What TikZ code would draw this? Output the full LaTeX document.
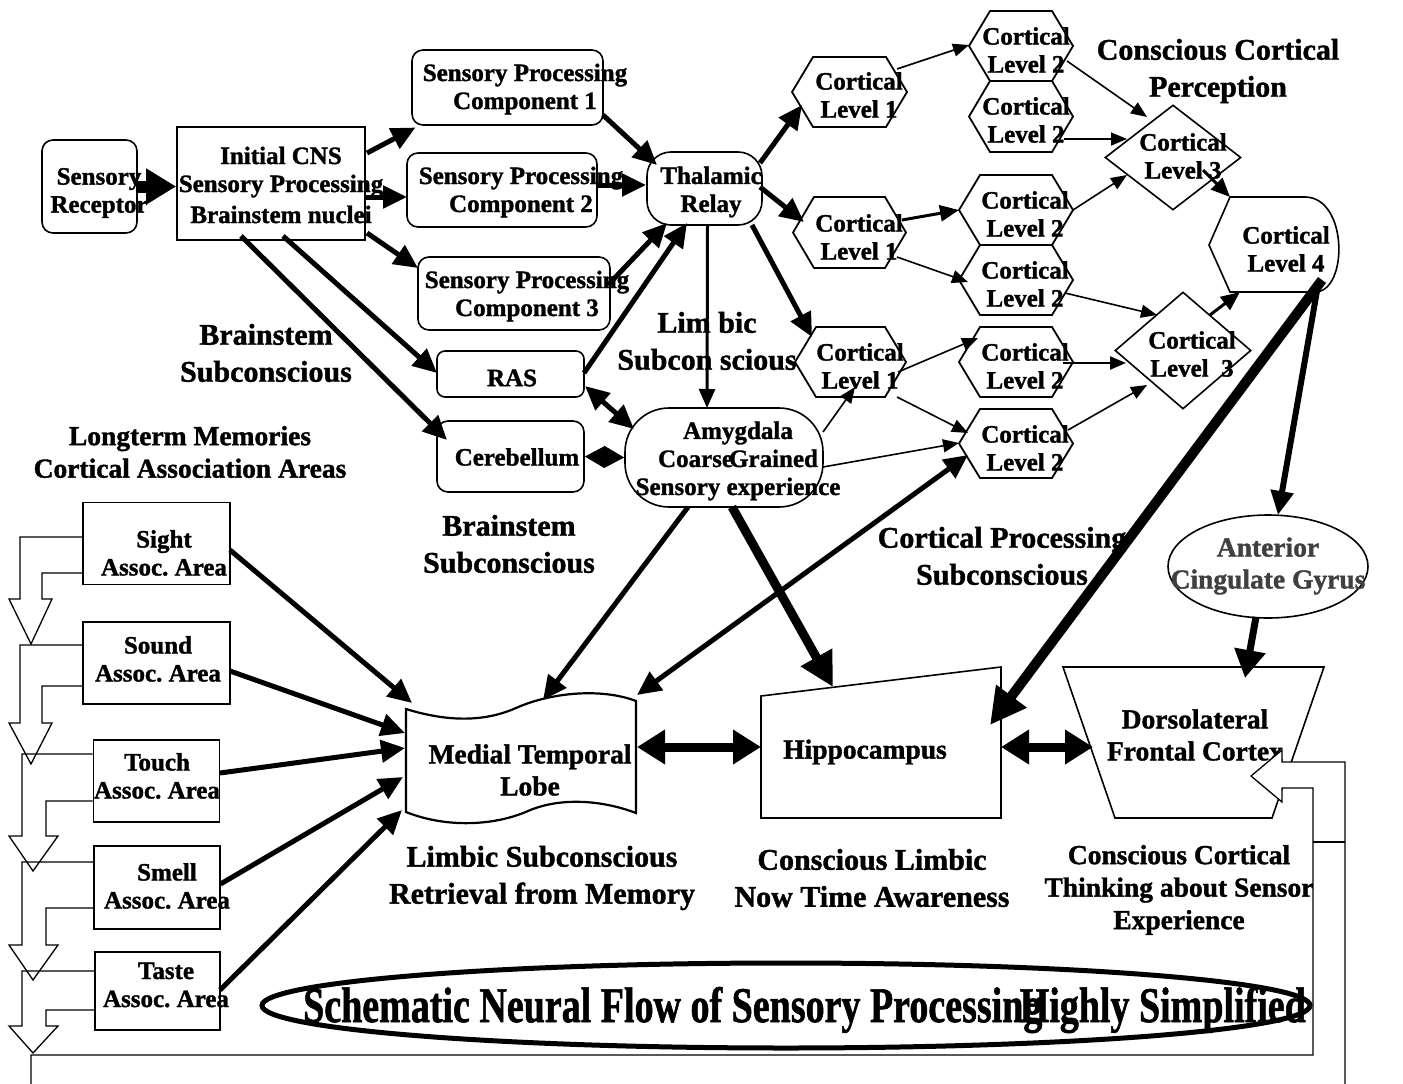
\documentclass[tikz,border=0pt]{standalone}
\usepackage{fontspec}
\setmainfont{Liberation Serif}[BoldFeatures={FakeBold=1.3}]
\usetikzlibrary{arrows.meta,shapes.geometric,calc}
\frenchspacing
\newcommand\fNode{\bfseries\fontsize{25}{28}\selectfont}
\newcommand\fBig{\bfseries\fontsize{27.5}{32}\selectfont}
\newcommand\fLbl{\bfseries\fontsize{30}{37}\selectfont}
\newcommand\fMid{\bfseries\fontsize{27.5}{32.5}\selectfont}
\newcommand\fTtl{\bfseries\fontsize{50}{55}\selectfont}
\tikzset{
  shp/.style={line width=1.6pt},
  rbox/.style={draw, shp, rounded corners=11pt, inner sep=0pt},
  sbox/.style={draw, shp, inner sep=0pt},
  hole/.style={inner sep=0pt, outer sep=0pt},
  txt/.style={font=\fNode, align=center, inner sep=0pt},
  btxt/.style={font=\fBig, align=center, inner sep=0pt},
  lbl/.style={font=\fLbl, align=center, inner sep=0pt},
  mlbl/.style={font=\fMid, align=center, inner sep=0pt},
  aThin/.style={line width=1.6pt, -{Triangle[length=16pt,width=13pt]}},
  aMed/.style={line width=3pt, -{Triangle[length=19pt,width=16pt]}},
  aThick/.style={line width=5pt, -{Triangle[length=24pt,width=22pt]}},
  aHeavy/.style={line width=9pt, -{Triangle[length=34pt,width=34pt]}},
  aHuge/.style={line width=12pt, -{Triangle[length=30pt,width=34pt]}},
  aDbl/.style={line width=9pt, {Triangle[length=28pt,width=33pt]}-{Triangle[length=28pt,width=33pt]}},
  aDblT/.style={line width=5pt, {Triangle[length=24pt,width=22pt]}-{Triangle[length=24pt,width=22pt]}},
  aDblS/.style={line width=1pt, {Triangle[length=20pt,width=22pt]}-{Triangle[length=20pt,width=22pt]}},
  hol/.style={line width=1.3pt, line join=miter},
}
\newcommand\hexn[5]{%
  \node[hole, minimum width=#4, minimum height=#5] (#1) at (#2,#3) {};%
  \draw[line width=1.8pt] (#1.west) -- ([xshift=21pt]#1.north west) -- ([xshift=-21pt]#1.north east) -- (#1.east) -- ([xshift=-21pt]#1.south east) -- ([xshift=21pt]#1.south west) -- cycle;}
\begin{document}
\begin{tikzpicture}[x=1pt,y=-1pt]
\useasboundingbox (0,0) rectangle (1403,1084);

% ---------- shapes ----------
\node[rbox, minimum width=95, minimum height=93] (sr) at (89.5,186.5) {};
\node[sbox, minimum width=188, minimum height=113] (cns) at (271,183.5) {};
\node[rbox, minimum width=191, minimum height=75] (sp1) at (507.5,87.5) {};
\node[rbox, minimum width=190, minimum height=74] (sp2) at (502,190) {};
\node[rbox, minimum width=192, minimum height=73] (sp3) at (514,293.5) {};
\node[draw, shp, rounded corners=24pt, minimum width=115, minimum height=73, inner sep=0pt] (thal) at (704.5,188.5) {};
\node[draw, shp, rounded corners=8pt, minimum width=147, minimum height=46, inner sep=0pt] (ras) at (510.5,374) {};
\node[rbox, minimum width=147, minimum height=71] (cer) at (510.5,456.5) {};
\node[draw, shp, rounded corners=44pt, minimum width=198, minimum height=99, inner sep=0pt] (amy) at (724,457.5) {};

\hexn{cl1a}{849.5}{92}{115}{70}
\hexn{cl1b}{849.5}{232.5}{113}{71}
\hexn{cl1c}{850.5}{362}{111}{70}
\hexn{cl2a}{1021}{46}{104}{70}
\hexn{cl2b}{1021}{116.5}{104}{71}
\hexn{cl2c}{1016}{210}{114}{70}
\hexn{cl2d}{1016}{280}{114}{70}
\hexn{cl2e}{1016}{362}{114}{70}
\hexn{cl2f}{1016}{443.5}{114}{69}

\node[diamond, draw, shp, minimum width=136, minimum height=105, inner sep=0pt] (cl3a) at (1173,157.5) {};
\node[diamond, draw, shp, minimum width=136, minimum height=117, inner sep=0pt] (cl3b) at (1183,350.5) {};

\node[hole, minimum width=126, minimum height=95] (cl4) at (1272,244.5) {};
\draw[shp] (1209,245) -- (1230,197) -- (1306,197) .. controls (1348,199) and (1348,290) .. (1316,292) -- (1230,292) -- cycle;

\node[ellipse, draw, shp, minimum width=200, minimum height=103, inner sep=0pt] (acg) at (1268,566.5) {};

\node[hole, minimum width=261, minimum height=151] (dlpfc) at (1193.5,742.5) {};
\draw[shp] (dlpfc.north west) -- (dlpfc.north east) -- ([xshift=-52pt]dlpfc.south east) -- ([xshift=52pt]dlpfc.south west) -- cycle;

\node[hole, minimum width=240, minimum height=151] (hip) at (881,742.5) {};
\draw[shp] ([yshift=-29pt]hip.north west) -- (hip.north east) -- (hip.south east) -- (hip.south west) -- cycle;

\node[hole, minimum width=230, minimum height=125] (mtl) at (521,757.5) {};
\draw[line width=2.2pt] (406,709) .. controls (445,721) and (482,723) .. (516,708) .. controls (552,692) and (602,688) .. (636,701) -- (636,813) .. controls (602,800) and (560,797) .. (528,811) .. controls (494,826) and (446,828) .. (406,812) -- cycle;

\node[sbox, minimum width=147, minimum height=82] (sight) at (156.5,543.5) {};
\node[sbox, minimum width=147, minimum height=82] (sound) at (156.5,663) {};
\node[sbox, minimum width=126, minimum height=82] (touch) at (156.5,781) {};
\node[sbox, minimum width=126, minimum height=83] (smell) at (157,887.5) {};
\node[sbox, minimum width=125, minimum height=78] (taste) at (157.5,991) {};

\node[draw, ellipse, line width=5pt, minimum width=1048, minimum height=85, inner sep=0pt] (ttl) at (786,1005.5) {};

% ---------- hollow arrows on the left ----------
\draw[hol] (sight.west |- 0,537) -- (20,537) -- (20,599) -- (9,599) -- (31,644) -- (52,599) -- (42,599) -- (42,573) -- (sight.west |- 0,573);
\draw[hol] (sound.west |- 0,645) -- (20,645) -- (20,723) -- (9,723) -- (31,764) -- (52,723) -- (42,723) -- (42,686) -- (sound.west |- 0,686);
\draw[hol] (touch.west |- 0,754) -- (22,754) -- (22,836) -- (9,836) -- (33,871) -- (58,836) -- (46,836) -- (46,801) -- (touch.west |- 0,801);
\draw[hol] (smell.west |- 0,862) -- (22,862) -- (22,945) -- (9,945) -- (33,980) -- (58,945) -- (46,945) -- (46,908) -- (smell.west |- 0,908);
\draw[hol] (taste.west |- 0,971) -- (22,971) -- (22,1026) -- (9,1026) -- (33,1053) -- (58,1026) -- (46,1026) -- (46,1010) -- (taste.west |- 0,1010);

% ---------- texts ----------
\node[txt] (srT) at (99,193) {Sensory\\Receptor};
\node[txt] (cnsT) at (281,185) {Initial CNS\\Sensory Processing\\[3pt]Brainstem nuclei};
\node[txt] (sp1T) at (525,89) {Sensory Processing\\Component 1};
\node[txt] (sp2T) at (521,192) {Sensory Processing\\Component 2};
\node[txt] (sp3T) at (527,296) {Sensory Processing\\Component 3};
\node[txt] (thalT) at (711,192) {Thalamic\\Relay};
\node[txt] (rasT) at (512,378) {RAS};
\node[txt] (cerT) at (517,457) {Cerebellum};
\node[txt] (amyT) at (738,461) {Amygdala\\Coarse\kern-4pt Grained\\Sensory experience};
\node[txt] (cl1aT) at (859,95) {Cortical\\Level 1};
\node[txt] (cl1bT) at (859,237) {Cortical\\Level 1};
\node[txt] (cl1cT) at (860,366) {Cortical\\Level 1};
\node[txt] (cl2aT) at (1026,50) {Cortical\\Level 2};
\node[txt] (cl2bT) at (1026,120) {Cortical\\Level 2};
\node[txt] (cl2cT) at (1025,214) {Cortical\\Level 2};
\node[txt] (cl2dT) at (1025,284) {Cortical\\Level 2};
\node[txt] (cl2eT) at (1025,366) {Cortical\\Level 2};
\node[txt] (cl2fT) at (1025,448) {Cortical\\Level 2};
\node[txt] (cl3aT) at (1183,156) {Cortical\\Level 3};
\node[txt] (cl3bT) at (1192,354) {Cortical\\Level\ \ 3};
\node[txt] (cl4T) at (1286,249) {Cortical\\Level 4};
\node[btxt, text=black!75] (acgT) at (1268,566) {Anterior\\Cingulate Gyrus};
\node[btxt] (dlT) at (1195,735) {Dorsolateral\\Frontal Cortex};
\node[btxt] (hipT) at (865,752) {Hippocampus};
\node[btxt] (mtlT) at (530,770) {Medial Temporal\\Lobe};
\node[txt] (sightT) at (164,553) {Sight\\Assoc. Area};
\node[txt] (soundT) at (158,659) {Sound\\Assoc. Area};
\node[txt] (touchT) at (157,776) {Touch\\Assoc. Area};
\node[txt] (smellT) at (167,886) {Smell\\Assoc. Area};
\node[txt] (tasteT) at (166,985) {Taste\\Assoc. Area};

\node[lbl] (l1) at (266,353) {Brainstem\\Subconscious};
\node[lbl] (l2) at (707,341) {Lim bic\\Subcon scious};
\node[mlbl] (l3) at (190,452) {Longterm Memories\\Cortical Association Areas};
\node[lbl] (l4) at (509,544) {Brainstem\\Subconscious};
\node[lbl] (l5) at (1002,556) {Cortical Processing\\Subconscious};
\node[lbl] (l6) at (1218,71) {Conscious Cortical\\Perception};
\node[lbl] (l7) at (542,878) {Limbic Subconscious\\Retrieval from Memory};
\node[lbl] (l8) at (872,878) {Conscious Limbic\\Now Time Awareness};
\node[mlbl] (l9) at (1179,890) {Conscious Cortical\\Thinking about Sensor\\Experience};

\node[anchor=west, font=\fTtl, inner sep=0pt] (ttlA) at (303,1010) {\scalebox{0.76}[1]{Schematic Neural Flow of Sensory Processing}};
\node[anchor=east, font=\fTtl, inner sep=0pt] (ttlB) at (1306,1010) {\scalebox{0.76}[1]{Highly Simplified}};

% ---------- connectors ----------
\draw[aHuge] (sr.east) -- (sr.east -| cns.west);
\draw[aThick] ($(cns)+(96,-30.5)$) -- ($(sp1)+(-92,40)$);
\draw[aThick] ($(cns)+(94,13.5)$) -- ($(sp2)+(-95,7)$);
\draw[aThick] ($(cns)+(96,49.5)$) -- ($(sp3)+(-96,-25.5)$);
\draw[aThick] ($(cns)+(12,52.5)$) -- ($(ras)+(-73.5,-1)$);
\draw[aThick] ($(cns)+(-30,52.5)$) -- ($(cer)+(-63.5,-16.5)$);
\draw[aThick] ($(sp1)+(95.5,27.5)$) -- ($(thal)+(-47.5,-23.5)$);
\draw[aThick] ($(sp2)+(95,-5)$) -- ($(thal)+(-58.5,-3.5)$);
\draw[aThick] ($(sp3)+(94,-8.5)$) -- ($(thal)+(-37.5,34.5)$);
\draw[aThick] ($(ras)+(73.5,-1)$) -- ($(thal)+(-17.5,34.5)$);
\draw[aDblT] ($(ras)+(74.5,12)$) -- ($(amy)+(-90,-28.5)$);
\draw[aDblS] (cer.east) -- (amy.west);
\draw[aMed] ($(thal)+(3,36.5)$) -- ($(amy)+(-17,-49.5)$);
\draw[aThick] ($(thal)+(55.5,-25.5)$) -- ($(cl1a)+(-47.5,13)$);
\draw[aThick] ($(thal)+(55.5,-1.5)$) -- ($(cl1b)+(-45.5,-10.5)$);
\draw[aThick] ($(thal)+(47.5,36.5)$) -- ($(cl1c)+(-38.5,-25)$);
\draw[aThin] ($(cl1a)+(47.5,-23)$) -- ($(cl2a)+(-52,-1)$);
\draw[aThin] ($(cl2a)+(46,15)$) -- ($(cl3a)+(-26,-40.5)$);
\draw[aThin] ($(cl2b)+(43,22.5)$) -- ($(cl3a)+(-46,-18.5)$);
\draw[aMed] ($(cl1b)+(52.5,-12.5)$) -- (cl2c.west);
\draw[aThin] (cl2c.east) -- ($(cl3a)+(-46,17.5)$);
\draw[aThin] ($(cl1b)+(47.5,24.5)$) -- ($(cl2d)+(-48,2)$);
\draw[aThin] ($(cl2d)+(49,13)$) -- ($(cl3b)+(-26,-35.5)$);
\draw[aMed] ($(cl3a)+(30,12.5)$) -- ($(cl4)+(-42,-47.5)$);
\draw[aMed] ($(cl3b)+(27,-35.5)$) -- ($(cl4)+(-32,47.5)$);
\draw[aThin] ($(cl1c)+(47.5,10)$) -- ($(cl2e)+(-38,-24)$);
\draw[aThin] ($(cl1c)+(46.5,35)$) -- ($(cl2f)+(-48,-10.5)$);
\draw[aThin, line width=2.2pt] ($(cl2e)+(47,1)$) -- ($(cl3b)+(-57,12.5)$);
\draw[aThin] ($(cl2f)+(52,-13.5)$) -- ($(cl3b)+(-36,34.5)$);
\draw[aThin] ($(amy)+(99,-25.5)$) -- ($(cl1c)+(4.5,25)$);
\draw[aThin] ($(amy)+(99,9.5)$) -- ($(cl2f)+(-57,-0.5)$);
\draw[aDblT] ($(mtl)+(116,-62.5)$) -- ($(cl2f)+(-48,11.5)$);
\draw[aThick] ($(amy)+(-36,49.5)$) -- ($(mtl)+(22,-57.5)$);
\draw[aHeavy] ($(amy)+(8,49.5)$) -- ($(hip)+(-48,-55.5)$);
\draw[aHeavy, line width=10pt, -{Triangle[length=36pt,width=36pt]}] ($(cl4)+(50,35.5)$) -- ($(hip)+(109,-17.5)$);
\draw[aThick, line width=6pt] ($(cl4)+(46,40.5)$) -- ($(acg)+(10,-51.5)$);
\draw[aThick, line width=7pt, -{Triangle[length=28pt,width=30pt]}] ($(acg)+(-12,50.5)$) -- ($(dlpfc)+(51.5,-64.5)$);
\draw[aDbl] ($(mtl)+(116,-10.5)$) -- ($(hip)+(-120,4.5)$);
\draw[aDbl] ($(hip)+(120,4.5)$) -- ($(dlpfc)+(-100.5,4.5)$);
\draw[aThick] ($(sight)+(73.5,6.5)$) -- ($(mtl)+(-109,-54.5)$);
\draw[aThick] ($(sound)+(73.5,8)$) -- ($(mtl)+(-116,-24.5)$);
\draw[aThick] ($(touch)+(63.5,-8)$) -- ($(mtl)+(-116,-9.5)$);
\draw[aThick] ($(smell)+(63.5,-3.5)$) -- ($(mtl)+(-118,19.5)$);
\draw[aThick] ($(taste)+(62.5,-1)$) -- ($(mtl)+(-119,52.5)$);

% ---------- big hollow band along the bottom and right ----------
\fill[white] (1313,1084) -- (1313,788) -- (1282,788) -- (1282,802) -- (1251,776) -- (1282,750) -- (1282,762) -- (1345,762) -- (1345,1084) -- cycle;
\draw[hol] (31,1084) -- (31,1055) -- (1313,1055) -- (1313,788) -- (1282,788) -- (1282,802) -- (1251,776) -- (1282,750) -- (1282,762) -- (1345,762) -- (1345,1084);
\draw[hol] (1313,842) -- (1345,842);
\end{tikzpicture}
\end{document}
